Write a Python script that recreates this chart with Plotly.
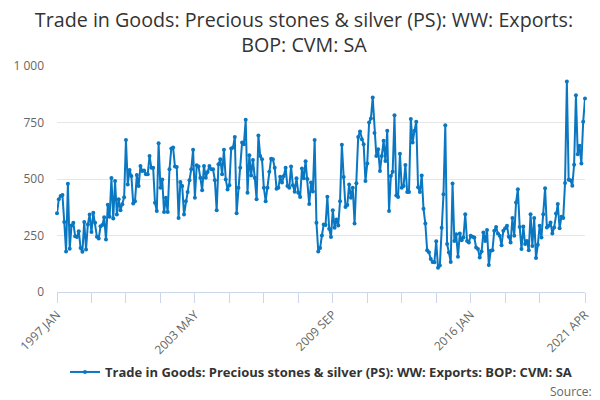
import pandas as pd
import plotly.graph_objects as go

# monthly series, 1997 JAN .. 2021 APR
exports = [
    349, 410, 425, 429, 310, 179, 479, 191, 294, 306, 247, 243,
    269, 195, 178, 310, 188, 299, 343, 265, 351, 306, 244, 237,
    291, 296, 331, 232, 386, 333, 504, 325, 491, 343, 410, 362,
    388, 419, 673, 476, 540, 513, 392, 402, 518, 469, 558, 535,
    538, 521, 521, 602, 550, 550, 395, 358, 658, 461, 498, 354,
    417, 354, 543, 635, 639, 555, 553, 327, 487, 469, 343, 402,
    442, 495, 543, 629, 417, 561, 555, 506, 450, 558, 506, 531,
    558, 543, 543, 495, 362, 565, 587, 521, 629, 498, 454, 472,
    635, 639, 686, 348, 461, 550, 661, 654, 762, 439, 605, 516,
    584, 506, 410, 693, 602, 587, 461, 402, 461, 532, 590, 587,
    550, 457, 461, 510, 484, 513, 550, 469, 461, 555, 472, 444,
    503, 439, 420, 546, 503, 579, 500, 389, 484, 445, 673, 306,
    179, 195, 250, 299, 296, 422, 280, 243, 362, 284, 321, 294,
    402, 651, 509, 376, 385, 476, 417, 461, 303, 481, 686, 710,
    676, 654, 491, 569, 750, 768, 861, 703, 602, 632, 535, 602,
    669, 580, 713, 358, 513, 532, 782, 427, 420, 612, 461, 469,
    562, 442, 442, 765, 661, 713, 753, 464, 442, 516, 368, 303,
    185, 176, 146, 133, 132, 225, 107, 117, 284, 432, 738, 212,
    175, 133, 480, 226, 256, 156, 259, 229, 241, 344, 226, 219,
    249, 244, 241, 197, 190, 153, 179, 263, 226, 274, 119, 182,
    185, 271, 288, 259, 249, 207, 271, 282, 293, 244, 219, 327,
    249, 396, 455, 288, 190, 290, 212, 226, 185, 344, 204, 327,
    150, 209, 293, 241, 344, 459, 285, 293, 308, 259, 285, 347,
    389, 282, 333, 327, 482, 931, 497, 494, 470, 563, 871, 610,
    647, 569, 753, 856,
]

months = [d.strftime("%Y %b").upper() for d in pd.date_range("1997-01-01", periods=len(exports), freq="MS")]

tick_idx = list(range(0, 267, 19)) + [len(months) - 1]
label_idx = [0, 76, 152, 228, len(months) - 1]
tick_text = [months[i] if i in label_idx else "" for i in tick_idx]

y_ticks = [0, 250, 500, 750, 1000]
y_text = ["0", "250", "500", "750", "1 000"]

blue = "#0a77c2"
grey = "#666666"

fig = go.Figure(go.Scatter(
    x=months, y=exports,
    mode="lines+markers",
    name="Trade in Goods: Precious stones & silver (PS): WW: Exports: BOP: CVM: SA",
    line=dict(color=blue, width=2),
    marker=dict(color=blue, size=4),
    cliponaxis=False,
))

# page body has an 8px margin, so the figure is a bit smaller than the window
fig.update_layout(
    width=592, height=392,
    margin=dict(l=49, r=15, t=58, b=108),
    paper_bgcolor="white", plot_bgcolor="white",
    font=dict(family="Open Sans", color=grey),
    title=dict(
        text="Trade in Goods: Precious stones & silver (PS): WW: Exports:<br>BOP: CVM: SA",
        x=0.5, xanchor="center", y=0.952, yanchor="top",
        font=dict(size=19.7, color="#333333"),
    ),
    xaxis=dict(
        type="category", range=[0, len(months) - 1], automargin=False,
        tickmode="array", tickvals=[months[i] for i in tick_idx], ticktext=tick_text,
        tickangle=-45, tickfont=dict(size=12, color=grey),
        ticks="outside", ticklen=10, tickcolor="#ccd6eb",
        showline=True, linecolor="#ccd6eb", linewidth=1,
        showgrid=False, zeroline=False,
    ),
    yaxis=dict(
        range=[0, 1000], tickmode="array", tickvals=y_ticks, ticktext=y_text,
        automargin=False,
        tickfont=dict(size=12, color=grey),
        gridcolor="#e6e6e6", zeroline=False, ticks="", ticklabelstandoff=12,
    ),
    showlegend=True,
    legend=dict(
        orientation="h", x=0.5, xanchor="center", y=-0.354, yanchor="middle",
        font=dict(size=13, color="#333333", weight="bold"),
        itemwidth=30,
    ),
    annotations=[dict(
        text="Source:", xref="paper", yref="paper", x=1.017, y=-0.44,
        xanchor="right", yanchor="middle", showarrow=False,
        font=dict(size=12, color=grey),
    )],
)

fig.write_html("out.html")
